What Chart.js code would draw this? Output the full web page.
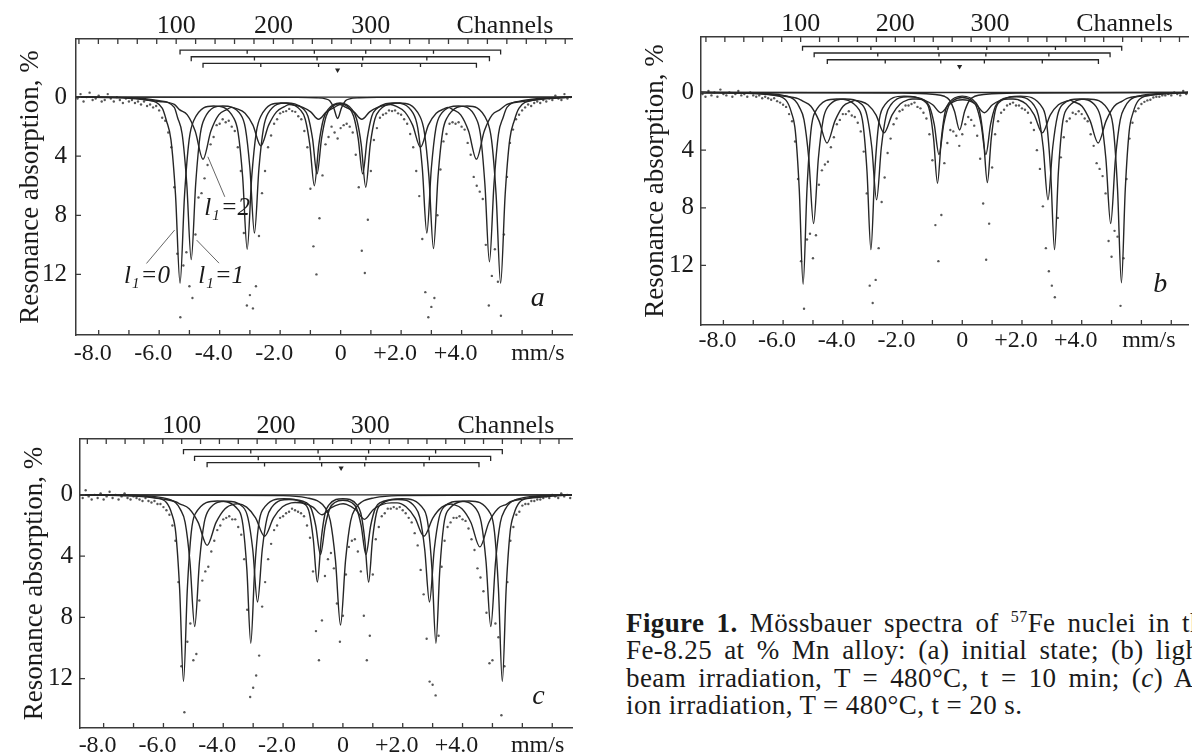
<!DOCTYPE html>
<html>
<head>
<meta charset="utf-8">
<title>Mössbauer spectra of 57Fe in Fe-Mn</title>
<script src="https://cdn.jsdelivr.net/npm/chart.js@4.4.1/dist/chart.umd.min.js"></script>
<style>
  html, body { margin: 0; padding: 0; background: #fff; }
  body { width: 1192px; height: 755px; position: relative; overflow: hidden;
         font-family: "Liberation Serif", "Times New Roman", serif; color: #1a1a1a; }
  canvas.panel { position: absolute; }
  .cap { position: absolute; left: 626px; white-space: nowrap; font-size: 27px; line-height: 30px; letter-spacing: 0.4px; }
  .cap.just { word-spacing: 5px; }
  .cap sup { font-size: 16px; vertical-align: 10px; line-height: 0; }
</style>
</head>
<body>
<canvas id="panel-a" class="panel" width="576" height="375" style="left:0;top:0;width:576px;height:375px"></canvas>
<canvas id="panel-b" class="panel" width="567" height="365" style="left:625px;top:0;width:567px;height:365px"></canvas>
<canvas id="panel-c" class="panel" width="576" height="375" style="left:0;top:380px;width:576px;height:375px"></canvas>

<div class="cap just" style="top:608px"><b>Figure 1.</b> Mössbauer spectra of <sup>57</sup>Fe nuclei in the</div>
<div class="cap just" style="top:635px">Fe-8.25 at % Mn alloy: (a) initial state; (b) light ion</div>
<div class="cap just" style="top:663px">beam irradiation, T = 480°C, t = 10 min; (<i>c</i>) Ar<sup>+</sup></div>
<div class="cap" style="top:690px">ion irradiation, T = 480°C, t = 20 s.</div>

<script>
// Mössbauer spectra, three panels (a, b, c)
// velocity axis (mm/s) at the bottom, channel axis at the top

const SERIF = '"Liberation Serif", "Times New Roman", serif';
const INK = '#1a1a1a';
const AXIS_COLOR = '#3a3a3a';
const CURVE_COLOR = '#262626';
const DOT_COLOR = 'rgba(45,45,45,0.8)';

// ---- tick labels ----
const VEL_TICKS = [-8, -7, -6, -5, -4, -3, -2, -1, 0, 1, 2, 3, 4, 5, 6, 7];
const VEL_LABELS = ['-8.0', '', '-6.0', '', '-4.0', '', '-2.0', '', '  0', '', '+2.0', '', '+4.0', '', '', ''];
const VEL_UNIT = 'mm/s';
const CHANNEL_TICKS = [0, 20, 40, 60, 80, 100, 120, 140, 160, 180, 200, 220, 240, 260, 280, 300,
                       320, 340, 360, 380, 400, 420, 440, 460, 480, 500];
const CHANNEL_LABELS = [100, 200, 300];
const CHANNEL_UNIT = 'Channels';
const ABS_TICKS = [0, 4, 8, 12];
const Y_TITLE = 'Resonance absorption, %';

// ---- experimental points: absorption (%) every 0.1 mm/s starting at -8.7 mm/s ----
const DOT_START = -8.7;
const DOT_STEP = 0.1;

const A_DOTS = [
  0.1, -0.2, 0.3, 0.0, -0.3, 0.2, 0.1, -0.1, 0.3, 0.2, -0.2, 0.1, 0.3, 0.0, 0.2, 0.4, 0.1, 0.3, 0.2, 0.4, 0.3, 0.5, 0.3, 0.6, 0.5, 0.7, 0.6,
  0.9,
  1.4, 1.6, 2.4, 3.4, 6.1, 10.6, 14.9, 11.4, 10.5, 12.8, 13.6, 9.3, 6.8, 6.5, 5.5, 4.6, 3.2, 2.7, 1.9, 1.8,
  1.5, 1.7, 1.6, 2.0, 2.3, 3.4, 5.0, 9.2, 14.1, 13.4, 14.3, 12.8, 9.4, 6.5, 5.0, 3.4, 2.6, 1.8, 1.5, 1.1,
  1.0, 0.95, 0.8, 0.95, 1.0, 1.3, 1.5, 2.3, 3.4, 6.2, 10.1, 12.0, 8.2, 5.3, 3.2, 2.7, 2.0, 2.4, 2.8, 2.1,
  1.9, 1.8, 2.0, 2.4, 3.9, 6.1, 10.4, 11.9, 8.3, 5.0, 2.9, 2.1, 1.4, 1.2, 1.1, 0.9, 0.95, 0.9, 1.1, 1.2,
  1.5, 1.8, 2.5, 3.4, 5.0, 6.7, 9.6, 13.2, 14.9, 14.2, 13.6, 8.0, 4.9, 3.0, 2.5, 1.8, 1.7, 1.8, 1.7, 2.0,
  2.2, 3.1, 3.9, 5.4, 6.0, 6.4, 6.9, 10.0, 14.1, 12.1, 10.3, 12.5, 14.8, 9.3, 5.4, 3.1, 2.2, 1.5, 1.2, 0.9,
  0.7, 0.5, 0.6, 0.4, 0.3, 0.4, 0.2, 0.3, 0.1, 0.2, -0.1, 0.1, 0.2, -0.2, 0.1, 0.0
];

const B_DOTS = [
  0.1, 0.3, -0.1, 0.2, 0.0, 0.3, -0.2, 0.1, 0.2, 0.0, 0.3, 0.1, -0.1, 0.2, 0.1, 0.3, 0.0, 0.2, 0.3, 0.2, 0.4, 0.3, 0.4, 0.5, 0.4, 0.6, 0.7,
  0.85,
  1.0, 1.5, 2.0, 3.4, 6.0, 11.7, 15.0, 10.2, 9.8, 11.5, 9.9, 6.4, 5.4, 5.0, 4.8, 3.8, 3.1, 2.2, 1.9, 1.5,
  1.5, 1.3, 1.6, 1.7, 2.1, 2.7, 4.1, 7.0, 13.4, 14.6, 13.0, 10.8, 7.6, 5.9, 4.2, 3.2, 2.2, 1.8, 1.3, 1.2,
  0.9, 0.9, 0.8, 0.7, 1.0, 1.1, 1.4, 1.8, 2.9, 4.7, 9.2, 11.7, 8.5, 4.9, 3.5, 2.6, 2.7, 3.0, 3.7, 2.9,
  2.2, 1.7, 1.9, 2.3, 3.0, 4.6, 7.7, 11.6, 9.1, 5.2, 2.9, 2.0, 1.4, 1.2, 0.9, 0.8, 0.7, 0.9, 0.9, 1.1,
  1.2, 1.4, 2.1, 2.6, 4.0, 5.3, 7.9, 10.8, 12.4, 13.4, 14.2, 8.7, 4.5, 3.1, 2.0, 1.8, 1.4, 1.5, 1.3, 1.5,
  1.8, 2.0, 2.9, 3.7, 4.9, 5.3, 5.8, 7.0, 10.3, 11.4, 9.6, 10.0, 14.8, 11.5, 6.0, 3.2, 2.1, 1.3, 1.1, 0.8,
  0.65, 0.55, 0.5, 0.35, 0.3, 0.3, 0.2, 0.2, 0.1, 0.2, 0.0, 0.1, 0.2, -0.1, 0.1
];

const C_DOTS = [
  0.2, -0.3, 0.1, 0.3, 0.0, 0.2, -0.1, 0.3, 0.1, -0.2, 0.2, 0.0, 0.3, 0.1, -0.1, 0.2, 0.3, 0.1, 0.2, 0.3, 0.4, 0.2, 0.4, 0.5, 0.4, 0.6, 0.6,
  0.8,
  1.0, 1.3, 2.0, 3.0, 5.7, 11.2, 14.2, 9.6, 8.4, 10.8, 10.4, 6.9, 5.6, 5.0, 4.7, 3.7, 3.0, 2.3, 2.0, 1.6,
  1.5, 1.4, 1.6, 1.6, 2.1, 2.6, 4.2, 7.5, 13.2, 12.6, 11.8, 10.5, 7.3, 5.7, 4.2, 3.2, 2.3, 2.0, 1.5, 1.4,
  1.2, 1.1, 0.9, 1.0, 1.1, 1.2, 1.4, 2.0, 2.8, 5.0, 8.9, 10.8, 8.2, 5.3, 4.2, 3.8, 4.8, 7.1, 9.6, 7.9,
  5.2, 3.4, 3.0, 2.9, 3.7, 5.0, 7.9, 10.8, 9.2, 5.2, 2.9, 2.1, 1.4, 1.2, 0.9, 0.9, 0.8, 0.9, 0.8, 1.0,
  1.2, 1.5, 1.8, 2.5, 3.3, 4.9, 6.5, 9.4, 12.2, 12.4, 13.1, 9.2, 4.7, 3.0, 2.1, 1.8, 1.5, 1.5, 1.4, 1.6,
  1.7, 2.2, 2.9, 3.6, 4.8, 5.4, 6.3, 7.7, 11.0, 10.8, 8.4, 9.3, 14.4, 11.2, 5.7, 3.0, 2.1, 1.3, 1.1, 0.7,
  0.6, 0.6, 0.4, 0.4, 0.3, 0.3, 0.2, 0.1, 0.2, 0.0, 0.1, 0.2, -0.1, 0.1, 0.0, 0.2
];

// ---- fitted sub-spectra: [velocity mm/s, absorption %] ----
// panel a
const A_L0 = [[-8.75,0],[-7.2,0.04],[-6.4,0.2],[-5.9,0.75],
  [-5.76,1.6],[-5.61,2.9],[-5.46,6.6],[-5.31,12.6],[-5.16,6.6],[-5.01,2.9],[-4.86,1.6],[-4.2,0.6],
  [-3.54,1.4],[-3.39,2.4],[-3.24,5.4],[-3.09,10.3],[-2.94,5.4],[-2.79,2.4],[-2.64,1.3],[-1.98,0.4],
  [-1.32,0.9],[-1.17,1.5],[-1.02,3.2],[-0.87,6.0],[-0.72,3.2],[-0.57,1.5],[-0.42,0.85],[-0.02,0.4],
  [0.38,0.85],[0.53,1.5],[0.68,3.2],[0.83,6.1],[0.98,3.2],[1.13,1.5],[1.28,0.9],[1.95,0.4],
  [2.62,1.3],[2.77,2.4],[2.92,5.4],[3.07,10.25],[3.22,5.4],[3.37,2.4],[3.52,1.4],[4.18,0.6],
  [4.84,1.6],[4.99,2.9],[5.14,6.6],[5.29,12.6],[5.44,6.6],[5.59,2.9],[5.74,1.6],
  [5.9,0.75],[6.4,0.2],[7.2,0.04],[7.65,0]];
const A_L1 = [[-8.75,0],[-7.0,0.04],[-6.0,0.25],[-5.5,0.7],
  [-5.39,1.4],[-5.24,2.5],[-5.09,5.8],[-4.94,11.0],[-4.79,5.8],[-4.64,2.5],[-4.49,1.4],[-3.9,0.6],
  [-3.3,1.2],[-3.15,2.1],[-3.0,4.8],[-2.85,9.2],[-2.7,4.8],[-2.55,2.1],[-2.4,1.1],[-1.8,0.4],
  [-1.23,0.8],[-1.08,1.3],[-0.93,2.8],[-0.78,5.2],[-0.63,2.8],[-0.48,1.3],[-0.33,0.75],[-0.02,0.45],
  [0.28,0.75],[0.43,1.3],[0.58,2.8],[0.73,5.2],[0.88,2.8],[1.03,1.3],[1.18,0.8],[1.8,0.4],
  [2.4,1.1],[2.55,2.1],[2.7,4.8],[2.85,9.2],[3.0,4.8],[3.15,2.1],[3.3,1.2],[3.9,0.6],
  [4.47,1.4],[4.62,2.5],[4.77,5.9],[4.92,11.15],[5.07,5.9],[5.22,2.5],[5.37,1.4],
  [5.5,0.7],[6.0,0.25],[7.0,0.04],[7.65,0]];
const A_L2 = [[-8.75,0],[-7.0,0.08],[-6.0,0.3],[-5.5,0.5],
  [-5.33,0.85],[-5.07,1.2],[-4.81,2.3],[-4.55,4.2],[-4.29,2.3],[-4.03,1.2],[-3.77,0.85],[-3.6,0.7],
  [-3.42,0.8],[-3.16,1.1],[-2.9,1.9],[-2.64,3.3],[-2.38,1.9],[-2.12,1.0],[-1.86,0.65],[-1.7,0.5],
  [-1.51,0.55],[-1.25,0.7],[-0.99,1.0],[-0.73,1.5],[-0.47,1.0],[-0.21,0.7],[-0.02,0.5],
  [0.18,0.7],[0.44,1.0],[0.70,1.5],[0.96,1.0],[1.22,0.7],[1.48,0.55],[1.65,0.5],
  [1.86,0.65],[2.12,1.0],[2.38,1.9],[2.64,3.4],[2.9,1.9],[3.16,1.1],[3.42,0.8],[3.55,0.7],
  [3.71,0.85],[3.97,1.2],[4.23,2.3],[4.49,4.2],[4.75,2.3],[5.01,1.2],[5.27,0.85],
  [5.5,0.5],[6.0,0.3],[7.0,0.08],[7.65,0]];
const A_SINGLET = [[-8.75,0],[-1.5,0.02],[-0.8,0.05],[-0.5,0.12],[-0.36,0.25],[-0.23,0.72],[-0.1,1.45],
  [0.03,0.72],[0.16,0.25],[0.3,0.12],[0.6,0.05],[1.3,0.02],[7.65,0]];

// panel b
const B_L0 = [[-8.75,0],[-7.0,0.03],[-6.3,0.2],[-5.9,0.55],
  [-5.72,1.4],[-5.59,2.7],[-5.46,6.7],[-5.33,13.3],[-5.2,6.7],[-5.07,2.7],[-4.94,1.4],[-4.2,0.45],
  [-3.45,1.2],[-3.32,2.25],[-3.19,5.5],[-3.06,10.9],[-2.93,5.5],[-2.8,2.2],[-2.67,1.1],[-1.95,0.25],
  [-1.22,0.7],[-1.09,1.3],[-0.96,3.2],[-0.83,6.3],[-0.7,3.2],[-0.57,1.3],[-0.44,0.7],[0.0,0.25],
  [0.45,0.7],[0.58,1.3],[0.71,3.2],[0.84,6.25],[0.97,3.2],[1.1,1.3],[1.23,0.7],[1.95,0.25],
  [2.7,1.1],[2.83,2.2],[2.96,5.5],[3.09,10.9],[3.22,5.5],[3.35,2.25],[3.48,1.2],[4.2,0.45],
  [4.94,1.4],[5.07,2.7],[5.2,6.7],[5.33,13.2],[5.46,6.7],[5.59,2.7],[5.72,1.4],
  [5.9,0.55],[6.3,0.2],[7.0,0.03],[7.56,0]];
const B_L1 = [[-8.75,0],[-7.0,0.04],[-6.0,0.2],[-5.6,0.55],
  [-5.46,1.0],[-5.3,1.9],[-5.14,4.6],[-4.98,9.1],[-4.82,4.6],[-4.66,1.9],[-4.5,1.0],[-3.92,0.45],
  [-3.35,0.85],[-3.19,1.6],[-3.03,3.8],[-2.87,7.45],[-2.71,3.8],[-2.55,1.6],[-2.39,0.85],[-1.82,0.3],
  [-1.26,0.55],[-1.1,0.95],[-0.94,2.2],[-0.78,4.3],[-0.62,2.2],[-0.46,0.95],[-0.3,0.55],[0.0,0.35],
  [0.31,0.55],[0.47,0.95],[0.63,2.2],[0.79,4.3],[0.95,2.2],[1.11,0.95],[1.27,0.55],[1.82,0.3],
  [2.39,0.85],[2.55,1.6],[2.71,3.8],[2.87,7.45],[3.03,3.8],[3.19,1.6],[3.35,0.85],[3.92,0.45],
  [4.49,1.0],[4.65,1.9],[4.81,4.6],[4.97,9.1],[5.13,4.6],[5.29,1.9],[5.45,1.0],
  [5.6,0.55],[6.0,0.2],[7.0,0.04],[7.56,0]];
const B_L2 = [[-8.75,0],[-7.0,0.07],[-6.0,0.25],[-5.5,0.42],
  [-5.34,0.6],[-5.07,0.95],[-4.8,1.95],[-4.53,3.5],[-4.26,1.95],[-3.99,0.95],[-3.72,0.65],[-3.58,0.55],
  [-3.43,0.6],[-3.16,0.85],[-2.89,1.55],[-2.62,2.8],[-2.35,1.55],[-2.08,0.8],[-1.81,0.5],[-1.67,0.45],
  [-1.53,0.45],[-1.26,0.55],[-0.99,0.85],[-0.72,1.4],[-0.45,0.85],[-0.18,0.55],[0.01,0.5],
  [0.2,0.55],[0.47,0.85],[0.74,1.4],[1.01,0.85],[1.28,0.55],[1.55,0.45],[1.7,0.45],
  [1.87,0.5],[2.14,0.8],[2.41,1.55],[2.68,2.8],[2.95,1.55],[3.22,0.85],[3.49,0.6],[3.62,0.55],
  [3.74,0.65],[4.01,0.95],[4.28,1.95],[4.55,3.5],[4.82,1.95],[5.09,0.95],[5.36,0.6],
  [5.5,0.42],[6.0,0.25],[7.0,0.07],[7.56,0]];
const B_SINGLET = [[-8.75,0],[-2.0,0.03],[-1.0,0.12],[-0.6,0.26],[-0.43,0.52],[-0.26,1.3],[-0.09,2.6],
  [0.08,1.3],[0.25,0.52],[0.42,0.26],[0.8,0.12],[1.8,0.03],[7.56,0]];

// panel c
const C_L0 = [[-8.79,0],[-7.0,0.03],[-6.3,0.18],[-5.9,0.5],
  [-5.72,1.25],[-5.59,2.45],[-5.46,6.1],[-5.33,12.2],[-5.2,6.1],[-5.07,2.45],[-4.94,1.25],[-4.2,0.4],
  [-3.47,1.05],[-3.34,2.0],[-3.21,4.9],[-3.08,9.7],[-2.95,4.9],[-2.82,2.0],[-2.69,1.0],[-1.97,0.25],
  [-1.25,0.65],[-1.12,1.2],[-0.99,2.9],[-0.855,5.7],[-0.725,2.9],[-0.595,1.2],[-0.465,0.65],[0.0,0.25],
  [0.47,0.65],[0.6,1.2],[0.73,2.9],[0.86,5.7],[0.99,2.9],[1.12,1.2],[1.25,0.65],[1.98,0.25],
  [2.72,1.0],[2.85,2.0],[2.98,4.9],[3.11,9.7],[3.24,4.9],[3.37,2.0],[3.5,1.05],[4.22,0.4],
  [4.94,1.25],[5.07,2.45],[5.2,6.1],[5.33,12.2],[5.46,6.1],[5.59,2.45],[5.72,1.25],
  [5.9,0.5],[6.3,0.18],[7.0,0.03],[7.66,0]];
const C_L1 = [[-8.79,0],[-7.0,0.04],[-6.0,0.2],[-5.6,0.5],
  [-5.435,0.95],[-5.275,1.8],[-5.115,4.35],[-4.955,8.6],[-4.795,4.35],[-4.635,1.8],[-4.475,0.95],[-3.9,0.42],
  [-3.335,0.8],[-3.175,1.5],[-3.015,3.55],[-2.855,7.0],[-2.695,3.55],[-2.535,1.5],[-2.375,0.8],[-1.8,0.3],
  [-1.23,0.5],[-1.07,0.85],[-0.91,2.0],[-0.75,3.9],[-0.59,2.0],[-0.43,0.85],[-0.27,0.5],[0.0,0.35],
  [0.29,0.5],[0.45,0.85],[0.61,2.0],[0.77,3.9],[0.93,2.0],[1.09,0.85],[1.25,0.5],[1.83,0.3],
  [2.415,0.8],[2.575,1.5],[2.735,3.55],[2.895,7.0],[3.055,3.55],[3.215,1.5],[3.375,0.8],[3.92,0.42],
  [4.465,0.95],[4.625,1.8],[4.785,4.35],[4.945,8.6],[5.105,4.35],[5.265,1.8],[5.425,0.95],
  [5.6,0.5],[6.0,0.2],[7.0,0.04],[7.66,0]];
const C_L2 = [[-8.79,0],[-7.0,0.08],[-6.0,0.28],[-5.6,0.45],
  [-5.44,0.6],[-5.14,0.9],[-4.84,1.8],[-4.54,3.3],[-4.24,1.8],[-3.94,0.9],[-3.64,0.6],
  [-3.52,0.58],[-3.22,0.8],[-2.92,1.5],[-2.62,2.7],[-2.32,1.5],[-2.02,0.78],[-1.72,0.52],
  [-1.6,0.5],[-1.3,0.55],[-1.0,0.8],[-0.7,1.3],[-0.4,0.85],[-0.1,0.6],[0.01,0.58],
  [0.12,0.62],[0.42,0.95],[0.72,1.6],[1.02,0.95],[1.32,0.62],[1.62,0.52],
  [1.81,0.52],[2.11,0.78],[2.41,1.5],[2.71,2.7],[3.01,1.5],[3.31,0.8],[3.61,0.6],
  [3.68,0.62],[3.98,0.9],[4.28,1.8],[4.58,3.4],[4.88,1.8],[5.18,0.9],[5.48,0.6],
  [5.6,0.45],[6.0,0.28],[7.0,0.08],[7.66,0]];
const C_SINGLET = [[-8.79,0],[-2.0,0.05],[-1.2,0.2],[-0.8,0.45],[-0.59,0.85],[-0.42,1.7],[-0.25,4.25],[-0.08,8.5],
  [0.09,4.25],[0.26,1.7],[0.43,0.85],[0.64,0.45],[1.04,0.2],[1.84,0.05],[7.66,0]];

// ---- stick diagrams: line positions (mm/s) of the sextets l1=0, 1, 2 ----
const A_STICKS = [[-5.31,-3.09,-0.87,0.83,3.07,5.29], [-4.94,-2.85,-0.78,0.73,2.85,4.92], [-4.55,-2.64,-0.73,0.70,2.64,4.49]];
const B_STICKS = [[-5.35,-3.06,-0.81,0.82,3.12,5.34], [-4.96,-2.83,-0.78,0.79,2.90,4.95], [-4.52,-2.58,-0.72,0.74,2.68,4.56]];
const C_STICKS = [[-5.33,-3.08,-0.83,0.86,3.10,5.33], [-4.96,-2.83,-0.77,0.77,2.89,4.94], [-4.54,-2.62,-0.71,0.73,2.71,4.55]];
const A_SHIFT = -0.10;
const B_SHIFT = -0.09;
const C_SHIFT = -0.06;

const STICK_HOOK = 0.3;
const STICK_TICK = 0.25;
const TICK_LEN = 5;

// ---- panel geometry (sizes in px, ranges in axis units) ----
const PANELS = [
  { id: 'panel-a', letter: 'a', dots: A_DOTS, comps: [A_L0, A_L1, A_L2, A_SINGLET], sticks: A_STICKS, shift: A_SHIFT,
    stickLevels: [-3.18, -2.73, -2.28], shiftLevel: -1.83,
    vMin: -8.75, vMax: 7.65, chMin: -3, chMax: 507, aMin: -3.93, aMax: 16.1,
    leftW: 76, topH: 39, bottomH: 40, yPad: 9, velPad: 7, titlePad: 15,
    unitAt: 6.72, channelsAt: 438, letterAt: [6.52, 13.63],
    notes: [
      { text: '0', at: [-7.16, 12.6], line: [[-6.42, 11.26], [-5.49, 9.0]] },
      { text: '1', at: [-4.71, 12.6], line: [[-4.02, 11.24], [-4.76, 9.68]] },
      { text: '2', at: [-4.51, 8.0], line: [[-3.83, 6.75], [-4.39, 4.04]] }
    ] },
  { id: 'panel-b', letter: 'b', dots: B_DOTS, comps: [B_L0, B_L1, B_L2, B_SINGLET], sticks: B_STICKS, shift: B_SHIFT,
    stickLevels: [-3.19, -2.74, -2.27], shiftLevel: -1.81,
    vMin: -8.75, vMax: 7.56, chMin: -5.2, chMax: 509, aMin: -3.85, aMax: 16.13,
    leftW: 76, topH: 37, bottomH: 40, yPad: 7, velPad: 4, titlePad: 15,
    unitAt: 6.45, channelsAt: 442, letterAt: [6.63, 13.35], notes: [] },
  { id: 'panel-c', letter: 'c', dots: C_DOTS, comps: [C_L0, C_L1, C_L2, C_SINGLET], sticks: C_STICKS, shift: C_SHIFT,
    stickLevels: [-2.95, -2.51, -2.11], shiftLevel: -1.75,
    vMin: -8.79, vMax: 7.66, chMin: -7.8, chMax: 513.8, aMin: -3.65, aMax: 15.23,
    leftW: 80, topH: 59, bottomH: 27, yPad: 7, velPad: 6, titlePad: 19,
    unitAt: 6.71, channelsAt: 443.7, letterAt: [6.54, 13.2], notes: [] }
];

const toPoints = arr => arr.map(p => ({ x: p[0], y: p[1] }));

function dotPoints(values) {
  return values.map((y, i) => ({ x: Math.round((DOT_START + i * DOT_STEP) * 100) / 100, y }));
}

function stickPoints(lines, level) {
  const pts = [
    { x: lines[0], y: level + STICK_HOOK }, { x: lines[0], y: level },
    { x: lines[5], y: level }, { x: lines[5], y: level + STICK_HOOK }
  ];
  for (let i = 1; i < 5; i++) {
    pts.push({ x: lines[i], y: null });
    pts.push({ x: lines[i], y: level }, { x: lines[i], y: level + STICK_TICK });
  }
  return pts;
}

// inward tick marks, panel letter and the l1 annotations
const figurePlugin = {
  id: 'figure',
  afterDraw(chart, args, opts) {
    const { ctx, chartArea: area } = chart;
    const { x, x2, y } = chart.scales;
    ctx.save();
    ctx.strokeStyle = AXIS_COLOR;
    ctx.lineWidth = 1.3;
    ctx.beginPath();
    VEL_TICKS.forEach(v => {
      const px = x.getPixelForValue(v);
      ctx.moveTo(px, area.bottom);
      ctx.lineTo(px, area.bottom - TICK_LEN);
    });
    CHANNEL_TICKS.forEach(c => {
      const px = x2.getPixelForValue(c);
      ctx.moveTo(px, area.top);
      ctx.lineTo(px, area.top + TICK_LEN);
    });
    ABS_TICKS.forEach(a => {
      const py = y.getPixelForValue(a);
      ctx.moveTo(area.left, py);
      ctx.lineTo(area.left + TICK_LEN, py);
    });
    ctx.stroke();

    ctx.fillStyle = INK;
    ctx.font = 'italic 28px ' + SERIF;
    ctx.textAlign = 'center';
    ctx.textBaseline = 'middle';
    ctx.fillText(opts.letter, x.getPixelForValue(opts.letterAt[0]), y.getPixelForValue(opts.letterAt[1]));

    ctx.textAlign = 'left';
    ctx.textBaseline = 'alphabetic';
    opts.notes.forEach(n => {
      ctx.strokeStyle = '#666';
      ctx.lineWidth = 1;
      ctx.beginPath();
      ctx.moveTo(x.getPixelForValue(n.line[0][0]), y.getPixelForValue(n.line[0][1]));
      ctx.lineTo(x.getPixelForValue(n.line[1][0]), y.getPixelForValue(n.line[1][1]));
      ctx.stroke();
      let px = x.getPixelForValue(n.at[0]);
      const py = y.getPixelForValue(n.at[1]);
      ctx.font = 'italic 25px ' + SERIF;
      ctx.fillText('l', px, py);
      px += ctx.measureText('l').width + 1;
      ctx.font = 'italic 15px ' + SERIF;
      ctx.fillText('1', px, py + 5);
      px += ctx.measureText('1').width + 1;
      ctx.font = 'italic 25px ' + SERIF;
      ctx.fillText('=' + n.text, px, py);
    });
    ctx.restore();
  }
};

function buildPanel(p) {
  const datasets = [];

  p.comps.forEach(c => datasets.push({
    data: toPoints(c), showLine: true, borderColor: CURVE_COLOR, borderWidth: 1.4,
    pointRadius: 0, cubicInterpolationMode: 'monotone', order: 1
  }));
  datasets.push({
    data: toPoints([[p.vMin, 0], [p.vMax, 0]]), showLine: true, borderColor: CURVE_COLOR,
    borderWidth: 1.3, pointRadius: 0, order: 1
  });
  p.sticks.forEach((s, k) => datasets.push({
    data: stickPoints(s, p.stickLevels[k]), showLine: true, spanGaps: false,
    borderColor: CURVE_COLOR, borderWidth: 1.3, pointRadius: 0, order: 1
  }));
  datasets.push({
    data: [{ x: p.shift, y: p.shiftLevel }], pointStyle: 'triangle', rotation: 180,
    pointRadius: 3, backgroundColor: CURVE_COLOR, borderColor: CURVE_COLOR, borderWidth: 0, order: 1
  });
  datasets.push({
    data: dotPoints(p.dots), showLine: false, pointRadius: 1.2, borderWidth: 0,
    backgroundColor: DOT_COLOR, order: 2
  });

  const tickFont = size => ({ family: SERIF, size: size, lineHeight: 1 });

  new Chart(document.getElementById(p.id), {
    type: 'scatter',
    data: { datasets },
    options: {
      responsive: false,
      animation: false,
      devicePixelRatio: 1,
      events: [],
      layout: { padding: 0 },
      plugins: {
        legend: { display: false },
        tooltip: { enabled: false },
        figure: { letter: p.letter, letterAt: p.letterAt, notes: p.notes }
      },
      scales: {
        x: {
          type: 'linear', position: 'bottom', min: p.vMin, max: p.vMax,
          grid: { display: false, drawTicks: false },
          border: { display: true, color: AXIS_COLOR, width: 1.5 },
          afterBuildTicks: s => {
            s.ticks = VEL_TICKS.concat([p.unitAt]).sort((a, b) => a - b).map(v => ({ value: v }));
          },
          ticks: {
            autoSkip: false, maxRotation: 0, padding: p.velPad, labelOffset: -6,
            color: INK, font: tickFont(24),
            callback: v => {
              const i = VEL_TICKS.indexOf(v);
              if (i >= 0) return VEL_LABELS[i];
              return v === p.unitAt ? VEL_UNIT : '';
            }
          },
          afterFit: s => { s.height = p.bottomH; }
        },
        x2: {
          type: 'linear', position: 'top', min: p.chMin, max: p.chMax,
          grid: { display: false, drawTicks: false },
          border: { display: true, color: AXIS_COLOR, width: 1.5 },
          afterBuildTicks: s => {
            s.ticks = CHANNEL_TICKS.concat([p.channelsAt]).sort((a, b) => a - b).map(v => ({ value: v }));
          },
          ticks: {
            autoSkip: false, maxRotation: 0, padding: 0, color: INK, font: tickFont(26),
            callback: v => {
              if (CHANNEL_LABELS.includes(v)) return String(v);
              return v === p.channelsAt ? CHANNEL_UNIT : '';
            }
          },
          afterFit: s => { s.height = p.topH; }
        },
        y: {
          type: 'linear', position: 'left', reverse: true, min: p.aMin, max: p.aMax,
          grid: { display: false, drawTicks: false },
          border: { display: true, color: AXIS_COLOR, width: 1.5 },
          afterBuildTicks: s => { s.ticks = ABS_TICKS.map(v => ({ value: v })); },
          ticks: { padding: p.yPad, color: INK, font: tickFont(25), callback: v => String(v) },
          title: {
            display: true, text: Y_TITLE, color: INK,
            font: { family: SERIF, size: 27, lineHeight: 1.2 },
            padding: { top: p.titlePad, bottom: 0 }
          },
          afterFit: s => { s.width = p.leftW; }
        }
      }
    },
    plugins: [figurePlugin]
  });
}

PANELS.forEach(buildPanel);
</script>
</body>
</html>
